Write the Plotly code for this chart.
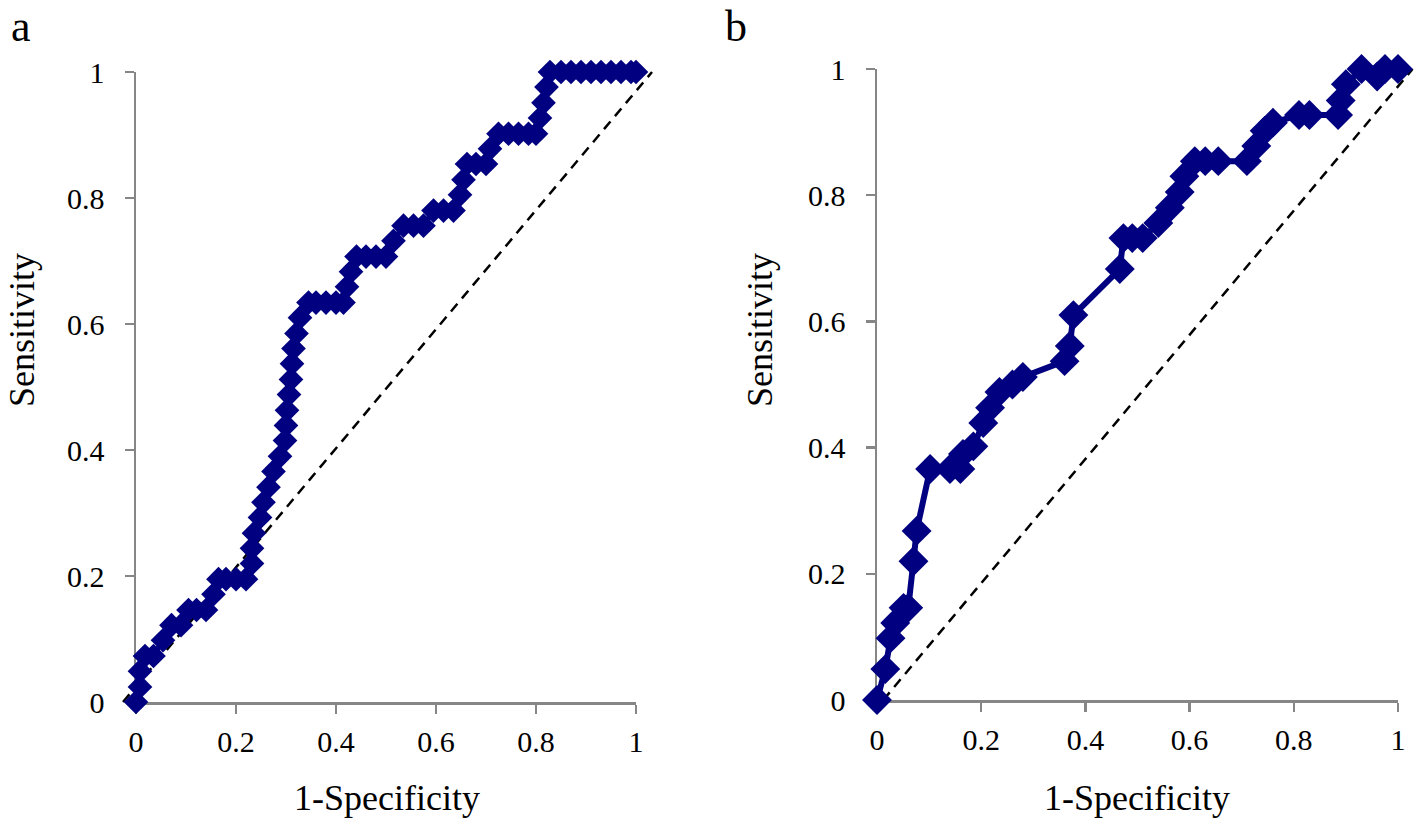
import plotly.graph_objects as go

# ---------------- data ----------------
a_fpr = [0.0, 0.008, 0.008, 0.018, 0.035, 0.054, 0.071, 0.09, 0.105, 0.121, 0.14, 0.155,
         0.165, 0.18, 0.2, 0.22, 0.232, 0.232, 0.236, 0.248, 0.255, 0.265, 0.275, 0.288,
         0.298, 0.3, 0.302, 0.306, 0.31, 0.312, 0.315, 0.321, 0.328, 0.345, 0.36, 0.38,
         0.4, 0.415, 0.422, 0.43, 0.441, 0.46, 0.48, 0.5, 0.515, 0.535, 0.555, 0.575,
         0.595, 0.615, 0.635, 0.648, 0.655, 0.662, 0.68, 0.7, 0.708, 0.725, 0.745, 0.765,
         0.785, 0.8, 0.808, 0.815, 0.821, 0.828, 0.85, 0.87, 0.89, 0.91, 0.93, 0.95,
         0.97, 0.99, 1.0]
a_tpr = [0.0, 0.024, 0.049, 0.073, 0.073, 0.098, 0.122, 0.122, 0.146, 0.146, 0.146, 0.171,
         0.195, 0.195, 0.195, 0.195, 0.22, 0.244, 0.268, 0.293, 0.317, 0.341, 0.366, 0.39,
         0.415, 0.439, 0.463, 0.488, 0.512, 0.537, 0.561, 0.585, 0.61, 0.634, 0.634, 0.634,
         0.634, 0.634, 0.659, 0.683, 0.707, 0.707, 0.707, 0.707, 0.732, 0.756, 0.756, 0.756,
         0.78, 0.78, 0.78, 0.805, 0.829, 0.854, 0.854, 0.854, 0.878, 0.902, 0.902, 0.902,
         0.902, 0.902, 0.927, 0.951, 0.976, 1.0, 1.0, 1.0, 1.0, 1.0, 1.0, 1.0,
         1.0, 1.0, 1.0]

b_fpr = [0.0, 0.016, 0.026, 0.035, 0.051, 0.06, 0.07, 0.076, 0.102, 0.14, 0.16, 0.165,
         0.185, 0.204, 0.217, 0.235, 0.26, 0.28, 0.36, 0.37, 0.377, 0.466, 0.473, 0.49,
         0.51, 0.54, 0.562, 0.581, 0.59, 0.61, 0.63, 0.655, 0.71, 0.728, 0.744, 0.76,
         0.81, 0.83, 0.885, 0.89, 0.9, 0.93, 0.96, 0.975, 1.0]
b_tpr = [0.0, 0.049, 0.098, 0.122, 0.146, 0.146, 0.22, 0.268, 0.366, 0.366, 0.366, 0.39,
         0.402, 0.439, 0.463, 0.488, 0.5, 0.512, 0.537, 0.561, 0.61, 0.683, 0.732, 0.732,
         0.732, 0.756, 0.78, 0.805, 0.83, 0.854, 0.854, 0.854, 0.854, 0.878, 0.902, 0.915,
         0.927, 0.927, 0.927, 0.95, 0.976, 1.0, 0.988, 1.0, 1.0]

# reference (chance) diagonals, endpoints as drawn in the source
diag_a_x = [-0.026, 1.032]
diag_b_x = [0.012, 1.028]
diag_y = [0.0, 1.0]

tick_vals = [0, 0.2, 0.4, 0.6, 0.8, 1]
tick_text = ["0", "0.2", "0.4", "0.6", "0.8", "1"]
x_title = "1-Specificity"
y_title = "Sensitivity"
panel_labels = ["a", "b"]

# ---------------- figure ----------------
W, H = 1416, 829
NAVY = "#000080"
AXC = "#868686"
FONT = "Liberation Serif"

fig = go.Figure()

fig.add_trace(go.Scatter(x=a_fpr, y=a_tpr, mode="lines+markers", xaxis="x", yaxis="y",
                         line=dict(color=NAVY, width=5),
                         marker=dict(symbol="diamond", size=19, color=NAVY),
                         cliponaxis=False, showlegend=False, hoverinfo="x+y"))
fig.add_trace(go.Scatter(x=b_fpr, y=b_tpr, mode="lines+markers", xaxis="x2", yaxis="y2",
                         line=dict(color=NAVY, width=6),
                         marker=dict(symbol="diamond", size=23, color=NAVY),
                         cliponaxis=False, showlegend=False, hoverinfo="x+y"))

for xr, yr, dx in (("x domain", "y domain", diag_a_x), ("x2 domain", "y2 domain", diag_b_x)):
    fig.add_shape(type="line", xref=xr, yref=yr, x0=dx[0], x1=dx[1], y0=diag_y[0], y1=diag_y[1],
                  line=dict(color="black", width=2.5, dash="10px,7px"), layer="below")

def px_x(p):
    return p / W

def px_y(p):
    return 1 - p / H

axis_common = dict(range=[0, 1], showline=True, linecolor=AXC, linewidth=2.5,
                   ticks="outside", ticklen=9, tickwidth=2.5, tickcolor=AXC,
                   showgrid=False, zeroline=False, tickvals=tick_vals, ticktext=tick_text,
                   tickfont=dict(family=FONT, size=30, color="black"),
                   layer="below traces", fixedrange=True, automargin=False)

fig.update_layout(
    template="none",
    width=W, height=H, margin=dict(l=0, r=0, t=0, b=0, pad=0),
    paper_bgcolor="white", plot_bgcolor="white",
    xaxis=dict(domain=[px_x(136), px_x(636)], anchor="y", ticklabelstandoff=2, **axis_common),
    yaxis=dict(domain=[px_y(702), px_y(72)], anchor="x", ticklabelstandoff=14, **axis_common),
    xaxis2=dict(domain=[px_x(877), px_x(1398)], anchor="y2", ticklabelstandoff=2, **axis_common),
    yaxis2=dict(domain=[px_y(700), px_y(69)], anchor="x2", ticklabelstandoff=14, **axis_common),
    font=dict(family=FONT, color="black"),
    hovermode=False,
)

ann = []
for cx, lbl in ((px_x(387), x_title), (px_x(1137), x_title)):
    ann.append(dict(x=cx, y=px_y(798), xref="paper", yref="paper", text=lbl, showarrow=False,
                    font=dict(family=FONT, size=36, color="black"), xanchor="center", yanchor="middle"))
for cx, lbl in ((px_x(22), y_title), (px_x(760), y_title)):
    ann.append(dict(x=cx, y=px_y(330), xref="paper", yref="paper", text=lbl, showarrow=False,
                    textangle=-90, font=dict(family=FONT, size=36, color="black"),
                    xanchor="center", yanchor="middle"))
for cx, lbl in ((px_x(21), panel_labels[0]), (px_x(736), panel_labels[1])):
    ann.append(dict(x=cx, y=px_y(0), xref="paper", yref="paper", text=lbl, showarrow=False,
                    font=dict(family=FONT, size=44, color="black"), xanchor="center", yanchor="top"))
fig.update_layout(annotations=ann)

fig.write_html("out.html", config={"displayModeBar": False, "staticPlot": True},
               post_script="document.body.style.margin='0px';document.body.style.overflow='hidden';")
